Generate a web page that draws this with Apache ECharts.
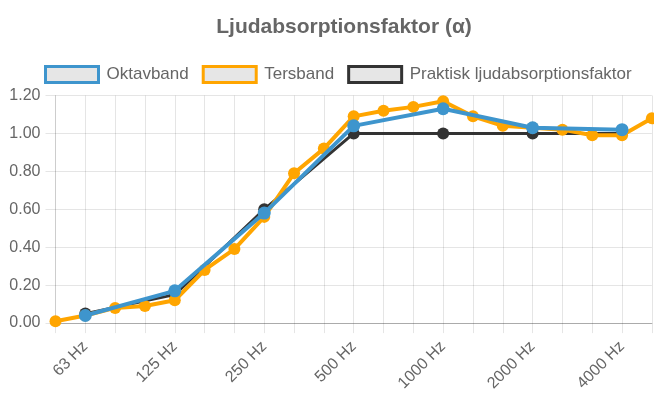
<!DOCTYPE html>
<html>
<head>
<meta charset="utf-8">
<style>
  html, body { margin: 0; padding: 0; background: #fff; }
  #chart { width: 654px; height: 394px; }
</style>
<script src="https://cdn.jsdelivr.net/npm/echarts@6/dist/echarts.min.js"></script>
</head>
<body>
<div id="chart"></div>
<script>
// Third-octave band centre frequencies
const categories = ['50 Hz', '63 Hz', '80 Hz', '100 Hz', '125 Hz', '160 Hz', '200 Hz', '250 Hz',
  '315 Hz', '400 Hz', '500 Hz', '630 Hz', '800 Hz', '1000 Hz', '1250 Hz', '1600 Hz',
  '2000 Hz', '2500 Hz', '3150 Hz', '4000 Hz', '5000 Hz'];

// Octave bands (also the only labelled ticks)
const octaveBands = ['63 Hz', '125 Hz', '250 Hz', '500 Hz', '1000 Hz', '2000 Hz', '4000 Hz'];

// Absorption coefficients
const tersband = [0.01, 0.04, 0.08, 0.09, 0.12, 0.28, 0.39, 0.56, 0.79, 0.92, 1.09,
  1.12, 1.14, 1.17, 1.09, 1.04, 1.03, 1.02, 0.99, 0.99, 1.08];
const oktavband = [0.04, 0.17, 0.58, 1.04, 1.13, 1.03, 1.02];
const praktisk = [0.05, 0.15, 0.60, 1.00, 1.00, 1.00, 1.00];

const yTicks = { min: 0, max: 1.2, step: 0.2 };

// Spread octave values over the third-octave category axis
function onOctaves(values) {
  const out = categories.map(() => null);
  octaveBands.forEach((b, i) => { out[categories.indexOf(b)] = values[i]; });
  return out;
}

const FONT = '"Liberation Sans", Arial, sans-serif';
const GRID = 'rgba(0,0,0,0.1)';
const BLUE = '#3e95cd';
const ORANGE = '#ffa500';
const BLACK = '#333333';

const chart = echarts.init(document.getElementById('chart'), null, { renderer: 'canvas' });

chart.setOption({
  animation: false,
  backgroundColor: '#ffffff',
  title: {
    text: 'Ljudabsorptionsfaktor (α)',
    left: 339,
    textAlign: 'center',
    top: 12,
    textStyle: { fontFamily: FONT, fontSize: 21, fontWeight: 'bold', color: '#666666' }
  },
  legend: {
    left: 44,
    top: 65,
    padding: 0,
    itemWidth: 53,
    itemHeight: 16,
    itemGap: 13,
    selectedMode: false,
    textStyle: { fontFamily: FONT, fontSize: 17, color: '#666666', padding: [0, 0, 0, 3] },
    data: [
      { name: 'Oktavband', icon: 'rect',
        itemStyle: { color: '#e6e6e6', borderColor: BLUE, borderWidth: 3 } },
      { name: 'Tersband', icon: 'rect',
        itemStyle: { color: '#e6e6e6', borderColor: ORANGE, borderWidth: 3 } },
      { name: 'Praktisk ljudabsorptionsfaktor', icon: 'rect',
        itemStyle: { color: '#e6e6e6', borderColor: BLACK, borderWidth: 3 } }
    ]
  },
  grid: { left: 55.5, right: -2, top: 95.5, bottom: 70.5, containLabel: false },
  xAxis: {
    type: 'category',
    data: categories,
    boundaryGap: false,
    axisLine: { show: true, lineStyle: { color: 'rgba(0,0,0,0.25)', width: 1 } },
    axisTick: { show: true, interval: 0, length: 10, lineStyle: { color: GRID } },
    splitLine: { show: true, interval: 0, lineStyle: { color: GRID, width: 1 } },
    axisLabel: {
      interval: 0,
      rotate: 45,
      margin: 21,
      fontFamily: FONT,
      fontSize: 16,
      color: '#666666',
      formatter: v => (octaveBands.includes(v) ? v : '')
    }
  },
  yAxis: {
    type: 'value',
    min: yTicks.min,
    max: yTicks.max,
    interval: yTicks.step,
    axisLine: { show: true, lineStyle: { color: GRID } },
    axisTick: { show: true, length: 10, lineStyle: { color: GRID } },
    splitLine: { show: true, lineStyle: { color: GRID, width: 1 } },
    axisLabel: {
      margin: 15,
      fontFamily: FONT,
      fontSize: 16,
      color: '#666666',
      formatter: v => v.toFixed(2)
    }
  },
  series: [
    {
      name: 'Praktisk ljudabsorptionsfaktor',
      type: 'line',
      z: 2,
      data: onOctaves(praktisk),
      connectNulls: true,
      symbol: 'circle',
      symbolSize: 12,
      showAllSymbol: true,
      lineStyle: { color: BLACK, width: 3 },
      itemStyle: { color: BLACK }
    },
    {
      name: 'Tersband',
      type: 'line',
      z: 3,
      data: tersband,
      symbol: 'circle',
      symbolSize: 12,
      showAllSymbol: true,
      lineStyle: { color: ORANGE, width: 4 },
      itemStyle: { color: ORANGE }
    },
    {
      name: 'Oktavband',
      type: 'line',
      z: 4,
      data: onOctaves(oktavband),
      connectNulls: true,
      symbol: 'circle',
      symbolSize: 13,
      showAllSymbol: true,
      lineStyle: { color: BLUE, width: 4 },
      itemStyle: { color: BLUE }
    }
  ]
});
</script>
</body>
</html>
